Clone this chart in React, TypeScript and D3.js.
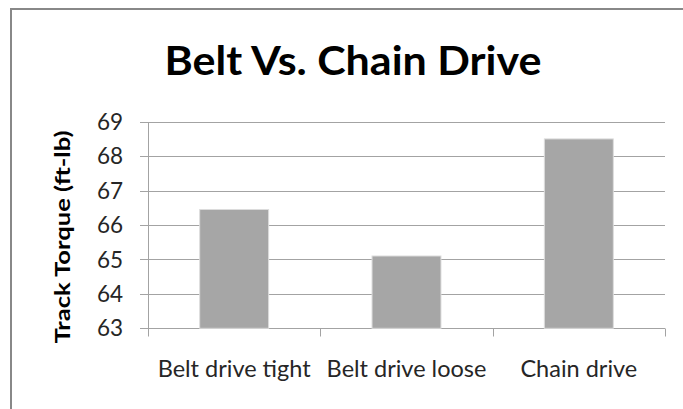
import React from "react";
import * as d3 from "d3";

const categories = ["Belt drive tight", "Belt drive loose", "Chain drive"];
const torque = [66.45, 65.1, 68.5];
const yTicks = [63, 64, 65, 66, 67, 68, 69];
const title = "Belt Vs. Chain Drive";
const yTitle = "Track Torque (ft-lb)";

const W = 683;
const H = 409;
const plot = { left: 148, right: 665, top: 121.7, bottom: 328.3 };
const FONT = "Lato, 'Open Sans', sans-serif";

export default function App() {
  const x = d3
    .scaleBand<string>()
    .domain(categories)
    .range([plot.left, plot.right])
    .paddingInner(0.6)
    .paddingOuter(0.3);
  const y = d3.scaleLinear().domain([63, 69]).range([plot.bottom, plot.top]);
  const step = x.step();
  const boundaries = d3.range(categories.length + 1).map((i) => plot.left + i * step);
  const snap = (v: number) => Math.round(v) + 0.5;

  return (
    <svg
      width={W}
      height={H}
      style={{ position: "absolute", left: 0, top: 0, background: "#fff" }}
    >
      {/* chart frame */}
      <path d={`M11,${H} V9 H${W}`} fill="none" stroke="#888" strokeWidth={2} />

      <text
        x={353}
        y={75}
        textAnchor="middle"
        fontFamily={FONT}
        fontWeight={700}
        fontSize={41}
        textLength={377}
        lengthAdjust="spacingAndGlyphs"
        fill="#000"
      >
        {title}
      </text>

      {/* horizontal gridlines */}
      {yTicks.map((t) => (
        <line
          key={"g" + t}
          x1={plot.left - 8}
          x2={plot.right}
          y1={snap(y(t))}
          y2={snap(y(t))}
          stroke="#a3a3a3"
          strokeWidth={1}
        />
      ))}

      {/* y axis line */}
      <line
        x1={snap(plot.left)}
        x2={snap(plot.left)}
        y1={snap(y(69))}
        y2={snap(y(63)) + 8}
        stroke="#a3a3a3"
      />

      {/* category tick marks */}
      {boundaries.slice(1).map((b, i) => (
        <line
          key={"c" + i}
          x1={snap(b)}
          x2={snap(b)}
          y1={snap(y(63))}
          y2={snap(y(63)) + 8}
          stroke="#a3a3a3"
        />
      ))}

      {/* bars */}
      {categories.map((c, i) => (
        <rect
          key={c}
          x={x(c)!}
          y={y(torque[i])}
          width={x.bandwidth()}
          height={y(63) - y(torque[i])}
          fill="#a6a6a6"
          stroke="#dcdcdc"
          strokeWidth={1}
        />
      ))}

      {/* y tick labels */}
      {yTicks.map((t) => (
        <text
          key={"t" + t}
          x={123}
          y={y(t)}
          dy="0.36em"
          textAnchor="end"
          fontFamily={FONT}
          fontSize={22.5}
          fill="#262626"
        >
          {t}
        </text>
      ))}

      {/* category labels */}
      {categories.map((c) => (
        <text
          key={"l" + c}
          x={x(c)! + x.bandwidth() / 2}
          y={377}
          textAnchor="middle"
          fontFamily={FONT}
          fontSize={23.5}
          fill="#262626"
        >
          {c}
        </text>
      ))}

      {/* y axis title */}
      <text
        transform={`translate(70,237) rotate(-90)`}
        textAnchor="middle"
        fontFamily={FONT}
        fontWeight={700}
        fontSize={21}
        textLength={213}
        lengthAdjust="spacingAndGlyphs"
        fill="#000"
      >
        {yTitle}
      </text>
    </svg>
  );
}
